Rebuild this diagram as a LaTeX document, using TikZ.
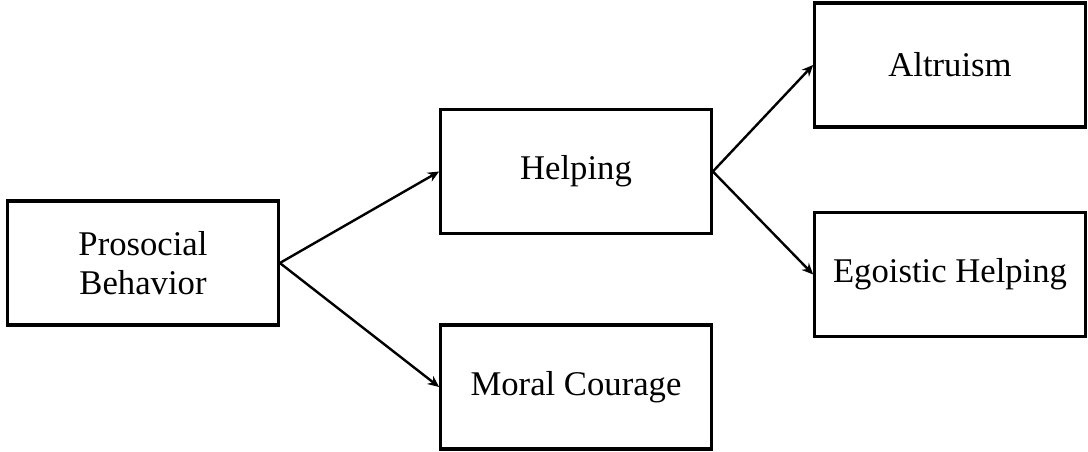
\documentclass[tikz,border=0pt]{standalone}
\usepackage{fontspec}
\setmainfont{Liberation Serif}
\usetikzlibrary{arrows.meta}
\begin{document}
\begin{tikzpicture}[x=0.75pt,y=-0.75pt,
  box/.style={draw=black, line width=2.3pt, minimum width=203pt, minimum height=93pt,
    inner sep=0pt, align=center, font=\fontsize{26}{29}\selectfont},
  link/.style={line width=1.8pt, -{Stealth[length=8.5pt,width=7.5pt]}}]
  \useasboundingbox (0,0) rectangle (1088,452);
  \node[box] (pro) at (143,263) {Prosocial\\Behavior};
  \node[box] (help) at (576,171.5) {Helping};
  \node[box] (moral) at (576,387) {Moral Courage};
  \node[box] (alt) at (950,65) {Altruism};
  \node[box] (ego) at (950,274.5) {Egoistic Helping};
  \draw[link] (pro.east) -- (help.west);
  \draw[link] (pro.east) -- (moral.west);
  \draw[link] (help.east) -- (alt.west);
  \draw[link] (help.east) -- (ego.west);
\end{tikzpicture}
\end{document}
